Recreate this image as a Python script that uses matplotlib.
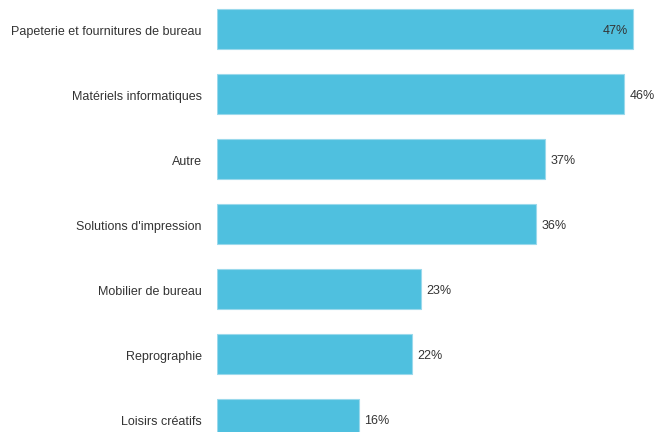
import matplotlib.pyplot as plt
import matplotlib.transforms as mtransforms

# Data
categories = ["Papeterie et fournitures de bureau", "Matériels informatiques", "Autre",
              "Solutions d'impression", "Mobilier de bureau", "Reprographie", "Loisirs créatifs"]
values = [47, 46, 37, 36, 23, 22, 16]
value_labels = ["47%", "46%", "37%", "36%", "23%", "22%", "16%"]

plt.rcParams["font.family"] = ["Liberation Sans", "DejaVu Sans"]

fig = plt.figure(figsize=(6.56, 4.32), dpi=100)
ax = fig.add_axes([217 / 656, 0, 434 / 656, 1])

pos = list(range(len(categories)))
ax.barh(pos, values, height=40 / 65, color="#4FC0DF", edgecolor="#9ad9ec", linewidth=0.8)

ax.set_xlim(0, 49)
ax.set_ylim((432 - 29) / 65, -29 / 65)

for i, (v, lab) in enumerate(zip(values, value_labels)):
    if v >= 47:
        ax.annotate(lab, (v, i), xytext=(-4, -1.2), textcoords="offset points",
                    ha="right", va="center", fontsize=9, color="#333333")
    else:
        ax.annotate(lab, (v, i), xytext=(4, -1.2), textcoords="offset points",
                    ha="left", va="center", fontsize=9, color="#333333")

ax.set_yticks(pos)
ax.set_yticklabels(categories, fontsize=9, color="#333333")
ax.tick_params(axis="y", length=0, pad=11)
shift = mtransforms.ScaledTranslation(0, -1.2 / 72, fig.dpi_scale_trans)
for t in ax.get_yticklabels():
    t.set_transform(t.get_transform() + shift)
ax.set_xticks([])
for s in ax.spines.values():
    s.set_visible(False)

fig.savefig("out.png", dpi=100)
